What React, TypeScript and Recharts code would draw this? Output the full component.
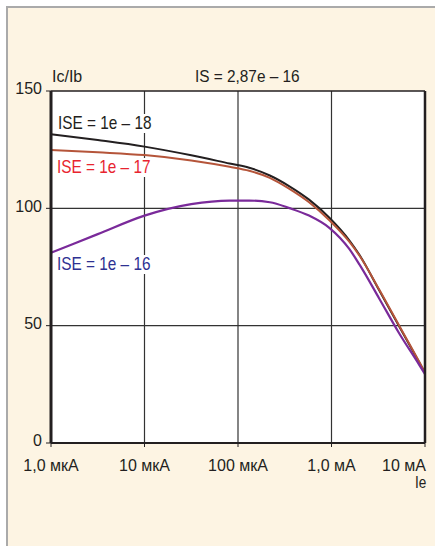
import React from 'react';
import { LineChart, Line, XAxis, YAxis, CartesianGrid } from 'recharts';

const logIe = [0, 0.5, 1, 1.5, 1.91, 2.12, 2.34, 2.55, 2.76, 2.98, 3.19, 3.3, 3.51, 3.72, 3.94, 4];
const ise18 = [131.6, 129.1, 126.3, 122.6, 119.1, 117.3, 114, 109.4, 103.7, 95.9, 86.4, 80.1, 65.1, 50, 34.2, 29.8];
const ise17 = [124.9, 123.9, 122.7, 120.4, 117.7, 116, 113, 108.3, 102.6, 94.8, 85.8, 79.8, 65.4, 50.3, 34.5, 30];
const ise16 = [81.1, 89, 96.9, 101.8, 103.3, 103.3, 102.6, 100.1, 96.9, 91.6, 82.7, 76, 61.6, 47, 33.2, 29.3];
const xTicks = [0, 1, 2, 3, 4];
const xTickLabels = ['1,0 мкА', '10 мкА', '100 мкА', '1,0 мА', '10 мА'];
const yTicks = [0, 50, 100, 150];

const data = logIe.map((x, i) => ({ x, a: ise18[i], b: ise17[i], c: ise16[i] }));

const FONT = '"Liberation Sans", Arial, sans-serif';
const INK = '#231f20';

const txt = (s: string, left: number, top: number, color: string, size: number, sx = 1, bg?: string) => (
  <div style={{ position: 'absolute', left, top, color, fontFamily: FONT, fontSize: size, lineHeight: 1, whiteSpace: 'nowrap', transform: `scaleX(${sx})`, transformOrigin: 'left top', background: bg }}>{s}</div>
);

const XTick = (props: any) => {
  const { x, y, payload } = props;
  const last = payload.value === xTicks[xTicks.length - 1];
  return (
    <text x={last ? x + 1 : x} y={y} dy="0.71em" textAnchor={last ? 'end' : 'middle'} fill={INK} fontSize={16} fontFamily={FONT}>
      {xTickLabels[xTicks.indexOf(payload.value)]}
    </text>
  );
};

const YTick = (props: any) => {
  const { x, y, payload } = props;
  return (
    <text x={x} y={y - 2.5} dy="0.355em" textAnchor="end" fill={INK} fontSize={16} fontFamily={FONT}>
      {payload.value}
    </text>
  );
};

export default function App() {
  return (
    <div style={{ position: 'absolute', left: 0, top: 0, width: 435, height: 546, background: '#fff', overflow: 'hidden' }}>
      <div style={{ position: 'absolute', left: 6, top: 6, width: 429, height: 540, background: '#fdf4e3', borderLeft: '2px solid #aaa', borderTop: '2px solid #aaa', boxSizing: 'border-box' }} />
      <div style={{ position: 'absolute', left: 0, top: 0 }}>
        <LineChart width={435} height={546} data={data} margin={{ top: 90, right: 9, bottom: 73, left: 11 }}>
          <CartesianGrid fill="#fff" stroke="#333" strokeWidth={1.2} horizontalValues={[50, 100]} verticalValues={[1, 2, 3]} />
          <XAxis dataKey="x" type="number" domain={[0, 4]} ticks={xTicks} height={30}
            tick={<XTick />}
            axisLine={{ stroke: INK, strokeWidth: 2 }} tickLine={{ stroke: INK }} tickSize={4} tickMargin={13} interval={0} />
          <XAxis xAxisId="t" orientation="top" dataKey="x" type="number" domain={[0, 4]} height={1} tick={false} tickLine={false}
            axisLine={{ stroke: INK, strokeWidth: 1.5 }} />
          <YAxis type="number" domain={[0, 150]} ticks={yTicks} width={40}
            tick={<YTick />}
            axisLine={{ stroke: INK, strokeWidth: 3 }} tickLine={{ stroke: INK }} tickSize={5} tickMargin={4} interval={0} />
          <YAxis yAxisId="r" orientation="right" type="number" domain={[0, 150]} width={1} tick={false} tickLine={false}
            axisLine={{ stroke: INK, strokeWidth: 2.5 }} />
          <Line type="monotone" dataKey="a" stroke={INK} strokeWidth={2} dot={false} isAnimationActive={false} />
          <Line type="monotone" dataKey="b" stroke="#b5553a" strokeWidth={2} dot={false} isAnimationActive={false} />
          <Line type="monotone" dataKey="c" stroke="#7a2a9a" strokeWidth={2.2} dot={false} isAnimationActive={false} />
        </LineChart>
      </div>
      {txt('Ic/Ib', 52, 69, INK, 16)}
      {txt('IS = 2,87e – 16', 195, 69, INK, 16, 0.96)}
      {txt('ISE = 1e – 18', 58, 114, INK, 18.5, 0.83, '#fff')}
      {txt('ISE = 1e – 17', 57, 158, '#e8242f', 18.5, 0.83, '#fff')}
      {txt('ISE = 1e – 16', 57, 255, '#2e3192', 18.5, 0.83, '#fff')}
      {txt('Ie', 415, 474, INK, 17, 0.8)}
    </div>
  );
}
